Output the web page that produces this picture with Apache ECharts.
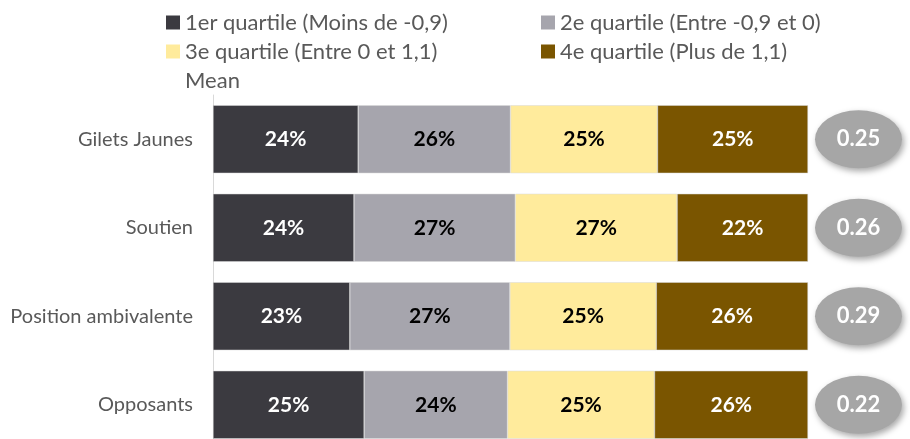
<!DOCTYPE html>
<html>
<head>
<meta charset="utf-8">
<script src="https://cdn.jsdelivr.net/npm/echarts@6/dist/echarts.min.js"></script>
<style>
  html, body { margin: 0; padding: 0; background: #fff; }
  #chart { width: 910px; height: 439px; }
</style>
</head>
<body>
<div id="chart"></div>
<script>
// categories (top to bottom)
const categories = ['Gilets Jaunes', 'Soutien', 'Position ambivalente', 'Opposants']

// quartile shares, in %
const q1 = [24.4, 23.7, 23.0, 25.4]
const q2 = [25.6, 27.1, 26.9, 24.1]
const q3 = [24.7, 27.2, 24.6, 24.7]
const q4 = [25.3, 22.0, 25.5, 25.8]

// mean per group
const means = [0.25, 0.26, 0.29, 0.22]

const seriesNames = [
  '1er quartile (Moins de -0,9)',
  '2e quartile (Entre -0,9 et 0)',
  '3e quartile (Entre 0 et 1,1)',
  '4e quartile (Plus de 1,1)'
]
const colors = ['#3b3a40', '#a6a5ad', '#ffeb9c', '#7a5500']
const labelColors = ['#ffffff', '#000000', '#000000', '#ffffff']
const font = 'Lato'

const chart = echarts.init(document.getElementById('chart'))

// une série empilée par quartile
const barSeries = [q1, q2, q3, q4].map((values, i) => ({
  name: seriesNames[i],
  type: 'bar',
  stack: 'total',
  barWidth: 68,
  xAxisIndex: 0,
  yAxisIndex: 0,
  itemStyle: { color: colors[i], borderColor: '#d9d9d9', borderWidth: 0.5 },
  label: {
    show: true,
    position: 'inside',
    color: labelColors[i],
    fontFamily: font,
    fontWeight: 'bold',
    fontSize: 21,
    formatter: p => Math.round(p.value) + '%'
  },
  data: values
}))

const legendBase = {
  orient: 'vertical',
  top: 8,
  padding: 0,
  icon: 'rect',
  itemWidth: 14,
  itemHeight: 14,
  itemGap: 0,
  itemStyle: { borderWidth: 0 },
  textStyle: { color: '#595959', fontFamily: font, fontSize: 22, lineHeight: 29 }
}

chart.setOption({
  animation: false,
  legend: [
    {
      ...legendBase,
      left: 166,
      data: [
        seriesNames[0],
        seriesNames[2],
        { name: 'Mean', itemStyle: { color: 'rgba(0,0,0,0)', borderWidth: 0, shadowBlur: 0 } }
      ]
    },
    {
      ...legendBase,
      left: 541,
      data: [seriesNames[1], seriesNames[3]]
    }
  ],
  grid: [
    { left: 213, width: 595, top: 95, height: 354, outerBoundsMode: 'none' },
    { left: 815, width: 87, top: 95, height: 354, outerBoundsMode: 'none' }
  ],
  xAxis: [
    { gridIndex: 0, type: 'value', min: 0, max: 100, show: false },
    { gridIndex: 1, type: 'value', min: 0, max: 1, show: false }
  ],
  yAxis: [
    {
      gridIndex: 0,
      type: 'category',
      inverse: true,
      data: categories,
      axisLine: { show: true, lineStyle: { color: '#d9d9d9', width: 1 } },
      axisTick: { show: false },
      axisLabel: { color: '#595959', fontFamily: font, fontSize: 20, margin: 20 }
    },
    {
      gridIndex: 1,
      type: 'category',
      inverse: true,
      data: categories,
      show: false
    }
  ],
  series: [
    ...barSeries,
    {
      name: 'Mean',
      type: 'scatter',
      xAxisIndex: 1,
      yAxisIndex: 1,
      symbol: 'circle',
      symbolSize: [87, 58],
      itemStyle: {
        color: '#a6a6a6',
        opacity: 1,
        shadowBlur: 6,
        shadowColor: 'rgba(0,0,0,0.35)',
        shadowOffsetX: 2,
        shadowOffsetY: 3
      },
      label: {
        show: true,
        position: 'inside',
        color: '#ffffff',
        fontFamily: font,
        fontWeight: 'bold',
        fontSize: 22,
        formatter: p => means[p.dataIndex].toFixed(2)
      },
      data: means.map((m, i) => [0.5, categories[i]])
    }
  ]
})
</script>
</body>
</html>
